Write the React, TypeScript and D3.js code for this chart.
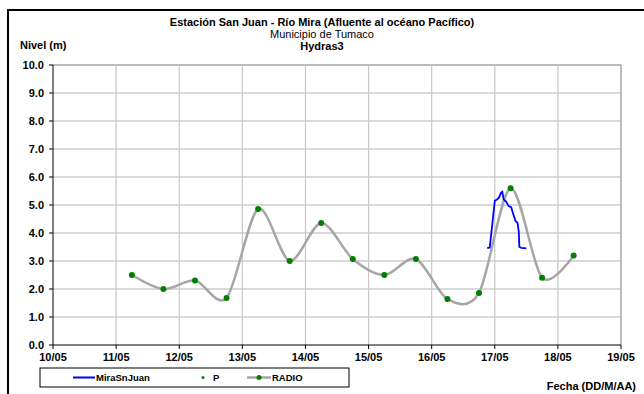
import React from "react";
import * as d3 from "d3";

const xTickDays = [10, 11, 12, 13, 14, 15, 16, 17, 18, 19];
const xTickLabels = ["10/05", "11/05", "12/05", "13/05", "14/05", "15/05", "16/05", "17/05", "18/05", "19/05"];
const yTicks = [0, 1, 2, 3, 4, 5, 6, 7, 8, 9, 10];

const radioDays = [11.25, 11.75, 12.25, 12.75, 13.25, 13.75, 14.25, 14.75, 15.25, 15.75, 16.25, 16.75, 17.25, 17.75, 18.25];
const radioValues = [2.5, 2.0, 2.3, 1.68, 4.86, 3.0, 4.36, 3.07, 2.5, 3.07, 1.64, 1.86, 5.6, 2.4, 3.2];

const miraDays = [16.88, 16.92, 16.96, 17.0, 17.04, 17.07, 17.1, 17.12, 17.14, 17.18, 17.22, 17.26, 17.29, 17.33, 17.36, 17.38, 17.39, 17.42, 17.5];
const miraValues = [3.46, 3.48, 4.3, 5.15, 5.2, 5.28, 5.44, 5.47, 5.2, 5.12, 4.96, 4.92, 4.7, 4.42, 4.37, 4.05, 3.5, 3.47, 3.45];

export default function App() {
  const W = 644, H = 394;
  const left = 53, right = 621, top = 65, bottom = 345;
  const x = d3.scaleLinear().domain([10, 19]).range([left, right]);
  const y = d3.scaleLinear().domain([0, 10]).range([bottom, top]);
  const radio = radioDays.map((d, i) => [d, radioValues[i]] as [number, number]);
  const mira = miraDays.map((d, i) => [d, miraValues[i]] as [number, number]);
  const smooth = d3.line<[number, number]>().x(d => x(d[0])).y(d => y(d[1])).curve(d3.curveCardinal.tension(0.1));
  const straight = d3.line<[number, number]>().x(d => x(d[0])).y(d => y(d[1]));
  const font = "Liberation Sans, Arial, sans-serif";
  return (
    <svg width={W} height={H} style={{ position: "absolute", left: 0, top: 0 }} fontFamily={font}>
      <rect x={0} y={0} width={W} height={H} fill="#fff" />
      <rect x={8} y={10} width={W} height={H} fill="none" stroke="#000" strokeWidth={2} />
      {yTicks.slice(1).map(t => (
        <line key={"h" + t} x1={left} x2={right} y1={y(t)} y2={y(t)} stroke={t === 10 ? "#a6a6a6" : "#d9d9d9"} strokeWidth={t === 10 ? 1.5 : 2} />
      ))}
      {xTickDays.slice(1).map(t => (
        <line key={"v" + t} x1={x(t)} x2={x(t)} y1={top} y2={bottom} stroke={t === 19 ? "#a6a6a6" : "#c8c8c8"} strokeWidth={t === 19 ? 1.5 : 1.2} />
      ))}
      <line x1={left} x2={left} y1={top} y2={bottom} stroke="#000" strokeWidth={1} />
      <line x1={left} x2={right} y1={bottom} y2={bottom} stroke="#000" strokeWidth={1} />
      {yTicks.map(t => (
        <g key={"yt" + t}>
          <line x1={left - 4} x2={left} y1={y(t)} y2={y(t)} stroke="#000" />
          <text x={left - 9} y={y(t) + 4} textAnchor="end" fontSize={11} fontWeight="bold">{t.toFixed(1)}</text>
        </g>
      ))}
      {xTickDays.map((t, i) => (
        <g key={"xt" + t}>
          <line x1={x(t)} x2={x(t)} y1={bottom} y2={bottom + 4} stroke="#000" />
          <text x={x(t)} y={bottom + 16} textAnchor="middle" fontSize={11} fontWeight="bold">{xTickLabels[i]}</text>
        </g>
      ))}
      <path d={smooth(radio) || ""} fill="none" stroke="#a6a6a6" strokeWidth={2.5} />
      {radio.map((d, i) => (
        <circle key={"r" + i} cx={x(d[0])} cy={y(d[1])} r={3} fill="#008000" />
      ))}
      <path d={straight(mira) || ""} fill="none" stroke="#0000ff" strokeWidth={1.8} />
      <text x={322} y={26} textAnchor="middle" fontSize={11} fontWeight="bold">Estación San Juan  - Río Mira (Afluente al océano Pacífico)</text>
      <text x={322} y={38} textAnchor="middle" fontSize={11}>Municipio de Tumaco</text>
      <text x={322} y={50} textAnchor="middle" fontSize={11} fontWeight="bold">Hydras3</text>
      <text x={20} y={49} fontSize={11} fontWeight="bold">Nivel (m)</text>
      <text x={636} y={390} textAnchor="end" fontSize={11} fontWeight="bold">Fecha (DD/M/AA)</text>
      <rect x={40} y={368} width={309} height={19} fill="#fff" stroke="#000" strokeWidth={1} />
      <line x1={73} x2={95} y1={377.5} y2={377.5} stroke="#0000ff" strokeWidth={2} />
      <text x={96} y={381} fontSize={9.5} fontWeight="bold">MiraSnJuan</text>
      <circle cx={203} cy={377.5} r={1.5} fill="#008000" />
      <text x={213} y={381} fontSize={9.5} fontWeight="bold">P</text>
      <line x1={247} x2={271} y1={377.5} y2={377.5} stroke="#a6a6a6" strokeWidth={2.5} />
      <circle cx={259} cy={377.5} r={2.5} fill="#008000" />
      <text x={272} y={381} fontSize={9.5} fontWeight="bold">RADIO</text>
    </svg>
  );
}
